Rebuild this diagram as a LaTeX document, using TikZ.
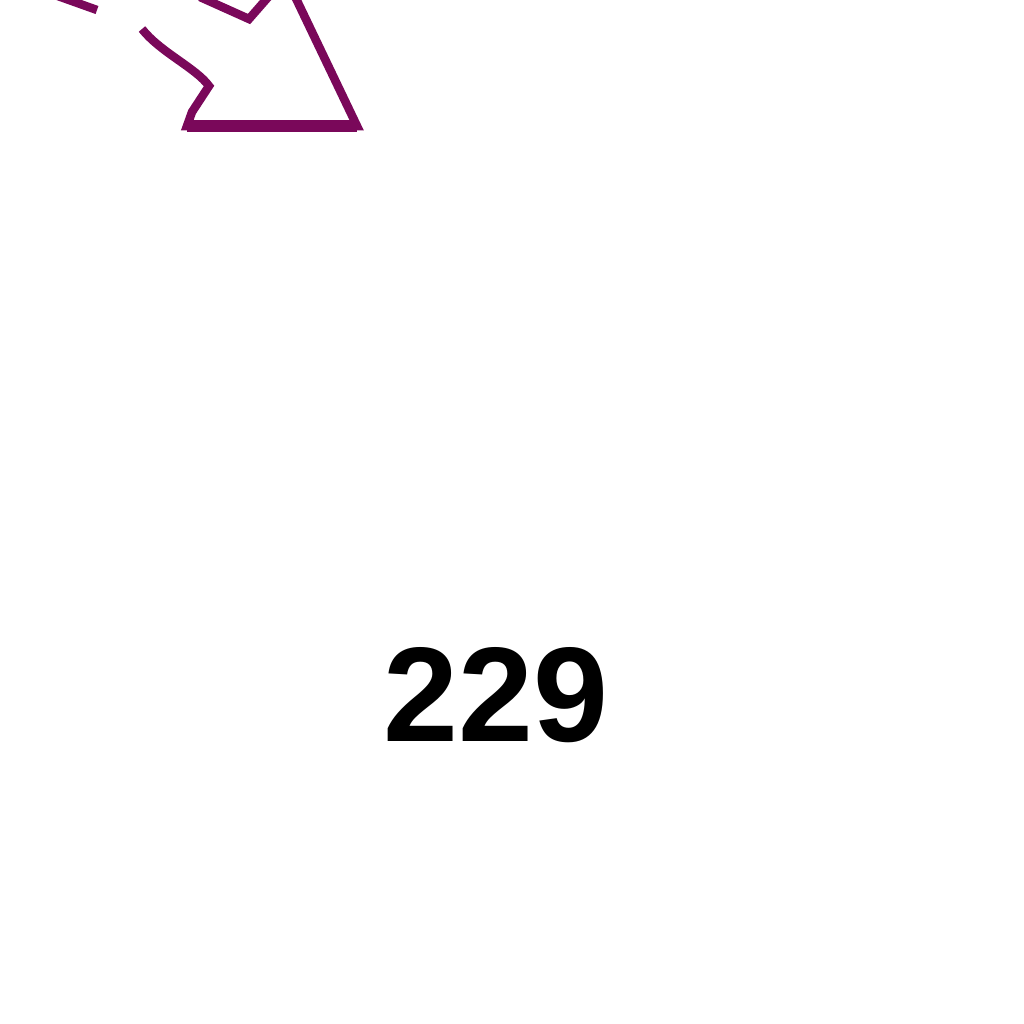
\documentclass[tikz,border=0pt]{standalone}
\usepackage{fontspec}
\setmainfont{Liberation Sans}
\usepackage{xcolor}
\usepackage{tikz}
\usetikzlibrary{positioning, calc}
\definecolor{plum}{RGB}{122,8,90}
\tikzstyle{outline} = [draw=plum, line width=0.085cm]
\tikzstyle{count} = [font=\fontsize{38.3}{40}\selectfont\bfseries, inner sep=0pt, text=black]

\begin{document}
\begin{tikzpicture}[x=0.01cm, y=-0.01cm]
    \useasboundingbox (0,0) rectangle (1024,1024);

    % === ARROW (cut by the top edge) ===
    \coordinate (tip) at (357,126);
    \coordinate (barb) at (187,126);
    \coordinate (neck) at (209,86);
    \coordinate (notch) at (249,19);

    \begin{scope}
        \clip (0,0) rectangle (1024,1024);
        % head and lower edge of the shaft
        \draw [outline] (290,-14) -- (tip) -- (barb) -- (192,112) -- (neck)
            .. controls (196,68) and (160,52) .. (142,29);
        \draw [plum, line width=0.11cm] (barb) -- (tip);
        % notch between shaft and upper barb
        \draw [outline] (200,-3) -- (notch) -- (270,-5);
        % stub of the shaft at the corner
        \draw [outline] (55,-5) -- (97,10);
    \end{scope}

    % === COUNT ===
    \node (count) [count] at (496,695) {229};

\end{tikzpicture}
\end{document}
